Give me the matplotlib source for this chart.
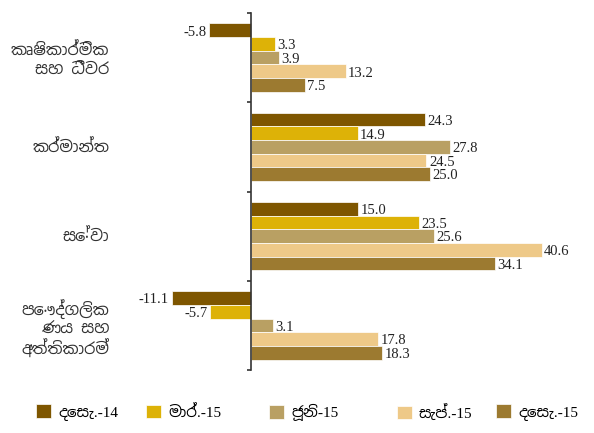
import numpy as np
import matplotlib
matplotlib.use("Agg")
from matplotlib import pyplot as plt
from matplotlib.ticker import FixedLocator

# categories (top to bottom) and series values
categories = ["කෘෂිකාර්මික\nසහ ධීවර", "කර්මාන්ත", "සේවා", "පෞද්ගලික\nණය සහ\nඅත්තිකාරම්"]
series_names = ["දෙසැ.-14", "මාර්.-15", "ජූනි-15", "සැප්.-15", "දෙසැ.-15"]
dec14 = [-5.8, 24.3, 15.0, -11.1]
mar15 = [3.3, 14.9, 23.5, -5.7]
jun15 = [3.9, 27.8, 25.6, 3.1]
sep15 = [13.2, 24.5, 40.6, 17.8]
dec15 = [7.5, 25.0, 34.1, 18.3]
colors = ["#7e5600", "#ddb207", "#b9a063", "#eec988", "#9c7a30"]

plt.rcParams["font.family"] = ["Noto Sans Sinhala", "Liberation Serif", "DejaVu Sans"]

fig = plt.figure(figsize=(5.94, 4.33), dpi=100)
ax = fig.add_axes([150 / 594, 1 - 370 / 433, 430 / 594, 357 / 433])

all_series = [dec14, mar15, jun15, sep15, dec15]
y = np.arange(len(categories))
h = 0.153
handles = []
for i, (vals, col, name) in enumerate(zip(all_series, colors, series_names)):
    pos = y + (i - 2) * h
    b = ax.barh(pos, vals, height=h, color=col, edgecolor="white", linewidth=0.5, label=name)
    handles.append(b)
    for p, v in zip(pos, vals):
        if v >= 0:
            ax.text(v + 0.35, p + 0.02, f"{v:.1f}", va="center", ha="left", fontsize=10.5,
                    family="Liberation Serif", color="#222222")
        else:
            ax.text(v - 0.35, p + 0.02, f"{v:.1f}", va="center", ha="right", fontsize=10.5,
                    family="Liberation Serif", color="#222222")

ax.set_xlim((150 - 251) / 7.16, (580 - 251) / 7.16)
ax.set_ylim(len(categories) - 0.5, -0.5)

for s in ["top", "right", "bottom"]:
    ax.spines[s].set_visible(False)
ax.spines["left"].set_position(("data", 0))
ax.spines["left"].set_color("#333333")
ax.spines["left"].set_linewidth(1.2)
ax.set_xticks([])
ax.set_yticks(y)
ax.set_yticklabels(categories, fontsize=11.5, ha="right", color="#333333")
# pad is in points: ~142 px from the spine
ax.tick_params(axis="y", which="major", length=0, pad=102)
ax.yaxis.set_minor_locator(FixedLocator(np.arange(-0.5, len(categories), 1.0)))
ax.tick_params(axis="y", which="minor", length=3, width=1.2, color="#333333")

# legend entries are spaced unevenly in the original, so place each one
legend_x = [36, 146, 269, 397, 496]
for hnd, name, lx in zip(handles, series_names, legend_x):
    fig.legend([hnd], [name], loc="center left", bbox_to_anchor=(lx / 594, 1 - 412.5 / 433),
               frameon=False, borderpad=0, borderaxespad=0,
               prop={"family": ["Liberation Serif", "Noto Sans Sinhala"], "size": 11},
               handlelength=0.98, handleheight=0.98, handletextpad=0.46)

fig.savefig("out.png", dpi=100)
